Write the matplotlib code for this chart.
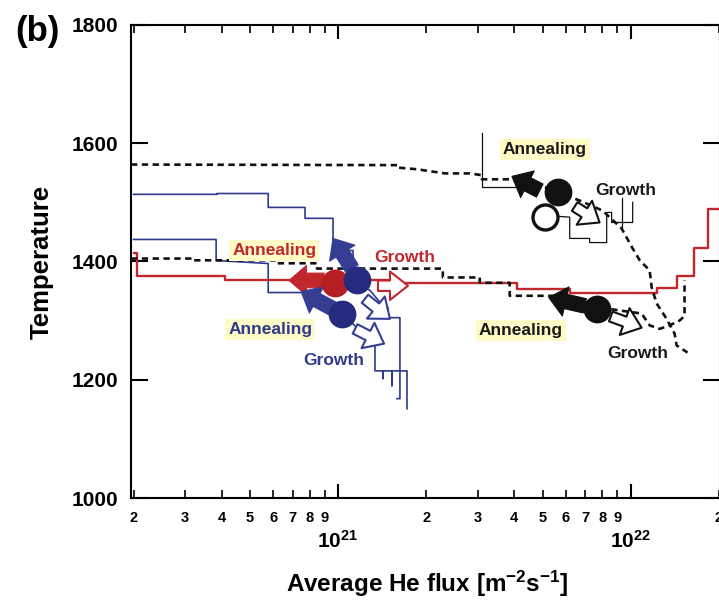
import matplotlib
matplotlib.use("Agg")
import numpy as np
import matplotlib.pyplot as plt
from matplotlib.ticker import FixedLocator, FuncFormatter

plt.rcParams["font.family"] = ["Liberation Sans", "DejaVu Sans"]
plt.rcParams["font.weight"] = "bold"
plt.rcParams["mathtext.fontset"] = "custom"
plt.rcParams["mathtext.rm"] = "Liberation Sans:bold"
plt.rcParams["mathtext.it"] = "Liberation Sans:bold"
plt.rcParams["mathtext.bf"] = "Liberation Sans:bold"
plt.rcParams["mathtext.sf"] = "Liberation Sans:bold"

# ---- trajectories: average He flux [m^-2 s^-1] vs temperature [K] ----
red_flux = [2.0e20, 2.06e20, 2.06e20, 4.11e20, 4.11e20, 1.627e21, 1.627e21, 4.08e21,
            4.08e21, 6.19e21, 6.19e21, 1.227e22, 1.227e22, 1.436e22, 1.436e22,
            1.652e22, 1.652e22, 1.833e22, 1.833e22, 2.05e22]
red_temp = [1414, 1414, 1376, 1376, 1369.5, 1369.5, 1363, 1363, 1353, 1353, 1347.5,
            1347.5, 1356, 1356, 1375, 1375, 1422, 1422, 1488, 1488]

dash_hi_flux = [1.96e20, 1.59e21, 1.59e21, 1.86e21, 2.32e21, 2.82e21, 3.10e21, 3.10e21,
                3.86e21, 4.89e21, 6.70e21, 8.02e21, 9.31e21, 1.016e22, 1.074e22,
                1.161e22, 1.180e22, 1.227e22, 1.327e22, 1.413e22, 1.436e22, 1.565e22]
dash_hi_temp = [1564, 1563, 1559, 1556, 1549, 1549, 1546, 1539, 1539, 1529, 1503, 1486,
                1456, 1422, 1402, 1385, 1356, 1329, 1303, 1278, 1258, 1246]

dash_lo_flux = [1.96e20, 3.13e20, 3.13e20, 6.14e20, 6.14e20, 8.47e20, 8.47e20, 2.28e21,
                2.28e21, 3.05e21, 3.05e21, 3.86e21, 3.86e21, 5.72e21, 7.83e21, 1.090e22,
                1.161e22, 1.256e22, 1.359e22, 1.469e22, 1.528e22, 1.528e22]
dash_lo_temp = [1405, 1405, 1402, 1402, 1397, 1397, 1388, 1388, 1373, 1373, 1364, 1364,
                1342, 1342, 1322, 1312, 1292, 1286, 1292, 1300, 1308, 1368]

blue1_flux = [2.0e20, 3.86e20, 3.86e20, 5.77e20, 5.77e20, 7.71e20, 7.71e20, 9.61e20,
              9.61e20, 1.125e21, 1.125e21, 1.286e21, 1.424e21, 1.481e21, 1.481e21,
              1.627e21, 1.627e21, 1.589e21]
blue1_temp = [1513.6, 1513.6, 1515, 1515, 1491.5, 1491.5, 1473, 1473, 1418.6, 1418.6,
              1371, 1351, 1325, 1322, 1305, 1305, 1168, 1168]

blue2_flux = [2.0e20, 3.83e20, 3.83e20, 5.77e20, 5.77e20, 7.71e20, 1.032e21, 1.189e21,
              1.337e21, 1.337e21, 1.424e21, 1.424e21, 1.424e21, 1.528e21, 1.528e21,
              1.528e21, 1.720e21, 1.720e21]
blue2_temp = [1437.3, 1437.3, 1401.7, 1396.6, 1347.5, 1347.5, 1312, 1283, 1271, 1215,
              1215, 1202, 1215, 1215, 1190, 1215, 1215, 1151]

thin_a_flux = [3.10e21, 3.10e21, 4.35e21]
thin_a_temp = [1617, 1525.5, 1525.5]
thin_b_flux = [5.09e21, 6.19e21, 6.19e21, 7.24e21, 7.24e21, 8.28e21, 8.28e21, 8.61e21,
               8.61e21, 1.016e22, 1.016e22]
thin_b_temp = [1478, 1475, 1439, 1439, 1432, 1432, 1483, 1483, 1466, 1466, 1500]
thin_c_flux = [9.31e21, 9.31e21]
thin_c_temp = [1508, 1459]

# ---- state points ----
pt_flux = [9.77e20, 1.161e21, 1.032e21, 5.63e21, 7.65e21, 5.09e21]
pt_temp = [1364, 1368, 1312, 1517, 1320, 1475]
pt_face = ["#b51f24", "#262b7d", "#262b7d", "#111111", "#111111", "white"]
pt_edge = ["#b51f24", "#262b7d", "#262b7d", "#111111", "#111111", "#111111"]

# ---- annealing (filled) / growth (open) arrows: tail -> tip ----
arr_tail_flux = [8.96e20, 1.369e21, 1.116e21, 9.61e20, 1.236e21, 1.143e21,
                 4.89e21, 6.44e21, 6.97e21, 8.55e21]
arr_tail_temp = [1368, 1359, 1388, 1320, 1337, 1286, 1520, 1493, 1325, 1307]
arr_tip_flux = [6.80e20, 1.734e21, 9.61e20, 7.48e20, 1.504e21, 1.436e21,
                3.93e21, 7.83e21, 5.25e21, 1.090e22]
arr_tip_temp = [1368, 1359, 1439, 1349, 1303, 1261, 1544, 1466, 1339, 1288]
arr_kind = ["anneal", "growth", "anneal", "anneal", "growth", "growth",
            "anneal", "growth", "anneal", "growth"]
arr_color = ["#c1272d", "#c1272d", "#343d92", "#343d92", "#343d92", "#343d92",
             "#111111", "#111111", "#111111", "#111111"]

# ---- labels ----
lab_text = ["Annealing", "Growth", "Annealing", "Growth",
            "Annealing", "Growth", "Annealing", "Growth"]
lab_flux = [6.05e20, 1.693e21, 5.86e20, 9.69e20, 5.09e21, 9.61e21, 4.21e21, 1.057e22]
lab_temp = [1418.6, 1407, 1285, 1232, 1590, 1520, 1283, 1244]
lab_color = ["#c1272d", "#c1272d", "#2e3a8c", "#2e3a8c",
             "#1a1a1a", "#1a1a1a", "#1a1a1a", "#1a1a1a"]

x_major = [1e21, 1e22]
x_minor = [k * 1e20 for k in range(2, 10)] + [k * 1e21 for k in range(2, 10)] + [2e22]
y_major = [1000, 1200, 1400, 1600, 1800]

fig = plt.figure(figsize=(7.19, 6.0), dpi=100)
ax = fig.add_axes([131 / 719, 102 / 600, 589 / 719, 473 / 600])
ax.set_xscale("log")
ax.set_xlim(1.96e20, 2.02e22)
ax.set_ylim(1000, 1800)

ax.plot(red_flux, red_temp, color="#c1272d", lw=1.7, zorder=3)
dash = (0, (2.4, 1.7))
ax.plot(dash_hi_flux, dash_hi_temp, color="#111111", lw=1.9, ls=dash, zorder=3)
ax.plot(dash_lo_flux, dash_lo_temp, color="#111111", lw=1.9, ls=dash, zorder=3)
ax.plot(blue1_flux, blue1_temp, color="#2e3a8c", lw=1.2, zorder=2)
ax.plot(blue2_flux, blue2_temp, color="#2e3a8c", lw=1.2, zorder=2)
for fx, ty in [(thin_a_flux, thin_a_temp), (thin_b_flux, thin_b_temp),
               (thin_c_flux, thin_c_temp)]:
    ax.plot(fx, ty, color="#111111", lw=0.9, zorder=2)

for tf, tt, hf, ht, kind, col in zip(arr_tail_flux, arr_tail_temp, arr_tip_flux,
                                     arr_tip_temp, arr_kind, arr_color):
    if kind == "anneal":
        style = "simple,head_length=1.25,head_width=2.15,tail_width=1.05"
        fc, ec, lw = col, col, 0.8
    else:
        style = "simple,head_length=1.3,head_width=2.05,tail_width=0.75"
        fc, ec, lw = "white", col, 1.5
    ax.annotate("", xy=(hf, ht), xytext=(tf, tt),
                arrowprops=dict(arrowstyle=style, mutation_scale=10, fc=fc, ec=ec,
                                lw=lw, shrinkA=0, shrinkB=0),
                zorder=4)

for f, t, fc, ec in zip(pt_flux, pt_temp, pt_face, pt_edge):
    if fc == "white":
        ax.plot(f, t, "o", ms=18, mfc=fc, mec=ec, mew=2.4, zorder=5)
    else:
        ax.plot(f, t, "o", ms=20, mfc=fc, mec=ec, mew=0, zorder=5)

for s, f, t, c in zip(lab_text, lab_flux, lab_temp, lab_color):
    if s == "Annealing":
        ax.text(f, t, s, color=c, fontsize=12.5, fontweight="bold", ha="center",
                va="center", zorder=6,
                bbox=dict(boxstyle="square,pad=0.18", fc="#fffbc6", ec="none"))
    else:
        ax.text(f, t, s, color=c, fontsize=12.5, fontweight="bold", ha="center",
                va="center", zorder=6)

# ---- axes styling ----
for sp in ax.spines.values():
    sp.set_linewidth(1.5)

ax.xaxis.set_major_locator(FixedLocator(x_major))
ax.xaxis.set_minor_locator(FixedLocator(x_minor))
ax.xaxis.set_major_formatter(FuncFormatter(
    lambda v, p: r"$10^{%d}$" % int(round(np.log10(v)))))
ax.xaxis.set_minor_formatter(FuncFormatter(
    lambda v, p: "%d" % int(round(v / 10 ** np.floor(np.log10(v) + 1e-9)))))
ax.yaxis.set_major_locator(FixedLocator(y_major))
ax.yaxis.set_minor_locator(FixedLocator([]))

ax.tick_params(axis="x", which="major", direction="in", length=10, width=1.5,
               top=True, pad=23, labelsize=15)
ax.tick_params(axis="x", which="minor", direction="in", length=6, width=1.2,
               top=True, pad=9, labelsize=10.5)
ax.tick_params(axis="y", which="major", direction="in", length=12, width=1.5,
               right=True, pad=9, labelsize=15)
for lab in ax.get_xticklabels(minor=True) + ax.get_yticklabels():
    lab.set_fontweight("bold")

ax.set_ylabel("Temperature", fontsize=18.5, fontweight="bold")
ax.yaxis.set_label_coords(-0.131, 0.5)
ax.set_xlabel("Average He flux [m$^{-2}$s$^{-1}$]", fontsize=17.5, fontweight="bold")
ax.xaxis.set_label_coords(0.5025, -0.15)

fig.text(37 / 719, 1 - 31 / 600, "(b)", ha="center", va="center", fontsize=25,
         fontweight="bold")

fig.savefig("out.png", dpi=100)
